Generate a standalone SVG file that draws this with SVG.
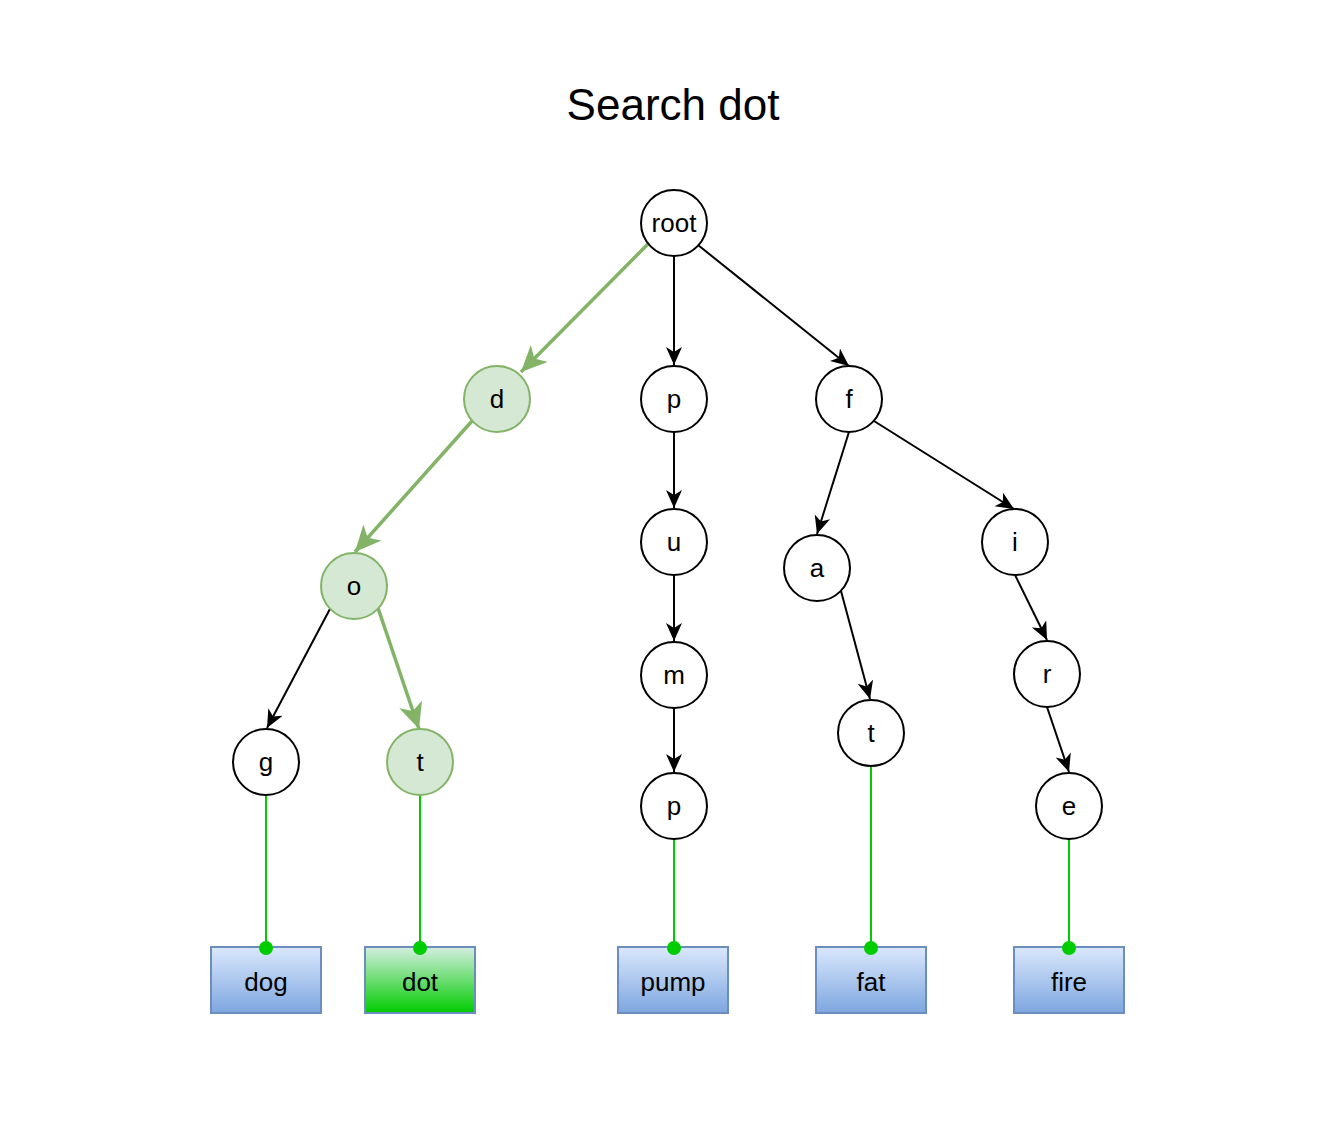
<svg xmlns="http://www.w3.org/2000/svg" width="1326" height="1136" viewBox="0 0 1326 1136">
<style>
.n circle{fill:#fff;stroke:#000;stroke-width:2}
.n.hl circle{fill:#d5e8d4;stroke:#82b366;stroke-width:2}
text{font-family:"Liberation Sans",Arial,sans-serif;font-size:26px;text-anchor:middle;fill:#000}
.title{font-size:44px}
.b rect{fill:url(#blue);stroke:#6c8ebf;stroke-width:2}
.b.hl rect{fill:url(#green)}
.e{stroke:#000;stroke-width:2;fill:none;marker-end:url(#ab)}
.e.hl{stroke:#82b366;stroke-width:3.5;marker-end:url(#ag)}
.l{stroke:#00cc00;stroke-width:2;fill:none}
</style>
<defs>
<linearGradient id="blue" x1="0" y1="0" x2="0" y2="1"><stop offset="0" stop-color="#dae8fc"/><stop offset="1" stop-color="#7ea6e0"/></linearGradient>
<linearGradient id="green" x1="0" y1="0" x2="0" y2="1"><stop offset="0" stop-color="#d5eee0"/><stop offset="1" stop-color="#00cc00"/></linearGradient>
<marker id="ab" markerUnits="userSpaceOnUse" markerWidth="20" markerHeight="18" refX="18" refY="8" orient="auto" viewBox="0 0 20 18"><path d="M0,0 L18,8 L0,16 L5,8 Z" fill="#000"/></marker>
<marker id="ag" markerUnits="userSpaceOnUse" markerWidth="28" markerHeight="26" refX="26" refY="12" orient="auto" viewBox="0 0 28 26"><path d="M0,0 L26,12 L0,24 L7,12 Z" fill="#82b366"/></marker>
</defs>
<rect width="1326" height="1136" fill="#fff"/>
<text class="title" x="673" y="120">Search dot</text>
<g id="connectors">
<line class="e hl" x1="648" y1="244" x2="521" y2="372"/>
<line class="e" x1="674" y1="256" x2="674" y2="365"/>
<line class="e" x1="698" y1="245" x2="849" y2="366"/>
<line class="e hl" x1="472" y1="421" x2="355" y2="552"/>
<line class="e" x1="674" y1="432" x2="674" y2="508"/>
<line class="e" x1="849" y1="432" x2="817" y2="534"/>
<line class="e" x1="874" y1="421" x2="1014" y2="509"/>
<line class="e" x1="331" y1="607" x2="267" y2="728"/>
<line class="e hl" x1="378" y1="608" x2="419" y2="729"/>
<line class="e" x1="674" y1="575" x2="674" y2="641"/>
<line class="e" x1="841" y1="591" x2="870" y2="699"/>
<line class="e" x1="1015" y1="575" x2="1047" y2="640"/>
<line class="e" x1="674" y1="708" x2="674" y2="772"/>
<line class="e" x1="1047" y1="707" x2="1069" y2="772"/>
<line class="l" x1="266" y1="795" x2="266" y2="948"/>
<line class="l" x1="420" y1="795" x2="420" y2="948"/>
<line class="l" x1="674" y1="839" x2="674" y2="948"/>
<line class="l" x1="871" y1="766" x2="871" y2="948"/>
<line class="l" x1="1069" y1="839" x2="1069" y2="948"/>
</g>
<g id="root" class="n"><circle cx="674" cy="223" r="33"/><text x="674" y="232">root</text></g>
<g id="d" class="n hl"><circle cx="497" cy="399" r="33"/><text x="497" y="408">d</text></g>
<g id="p1" class="n"><circle cx="674" cy="399" r="33"/><text x="674" y="408">p</text></g>
<g id="f" class="n"><circle cx="849" cy="399" r="33"/><text x="849" y="408">f</text></g>
<g id="o" class="n hl"><circle cx="354" cy="586" r="33"/><text x="354" y="595">o</text></g>
<g id="u" class="n"><circle cx="674" cy="542" r="33"/><text x="674" y="551">u</text></g>
<g id="a" class="n"><circle cx="817" cy="568" r="33"/><text x="817" y="577">a</text></g>
<g id="i" class="n"><circle cx="1015" cy="542" r="33"/><text x="1015" y="551">i</text></g>
<g id="g" class="n"><circle cx="266" cy="762" r="33"/><text x="266" y="771">g</text></g>
<g id="t1" class="n hl"><circle cx="420" cy="762" r="33"/><text x="420" y="771">t</text></g>
<g id="m" class="n"><circle cx="674" cy="675" r="33"/><text x="674" y="684">m</text></g>
<g id="t2" class="n"><circle cx="871" cy="733" r="33"/><text x="871" y="742">t</text></g>
<g id="r" class="n"><circle cx="1047" cy="674" r="33"/><text x="1047" y="683">r</text></g>
<g id="p2" class="n"><circle cx="674" cy="806" r="33"/><text x="674" y="815">p</text></g>
<g id="e" class="n"><circle cx="1069" cy="806" r="33"/><text x="1069" y="815">e</text></g>
<g id="w-dog" class="b"><rect x="211" y="947" width="110" height="66"/><text x="266" y="991">dog</text></g>
<g id="w-dot" class="b hl"><rect x="365" y="947" width="110" height="66"/><text x="420" y="991">dot</text></g>
<g id="w-pump" class="b"><rect x="618" y="947" width="110" height="66"/><text x="673" y="991">pump</text></g>
<g id="w-fat" class="b"><rect x="816" y="947" width="110" height="66"/><text x="871" y="991">fat</text></g>
<g id="w-fire" class="b"><rect x="1014" y="947" width="110" height="66"/><text x="1069" y="991">fire</text></g>
<g id="dots" fill="#00cc00">
<circle cx="266" cy="948" r="7"/>
<circle cx="420" cy="948" r="7"/>
<circle cx="674" cy="948" r="7"/>
<circle cx="871" cy="948" r="7"/>
<circle cx="1069" cy="948" r="7"/>
</g>
</svg>
